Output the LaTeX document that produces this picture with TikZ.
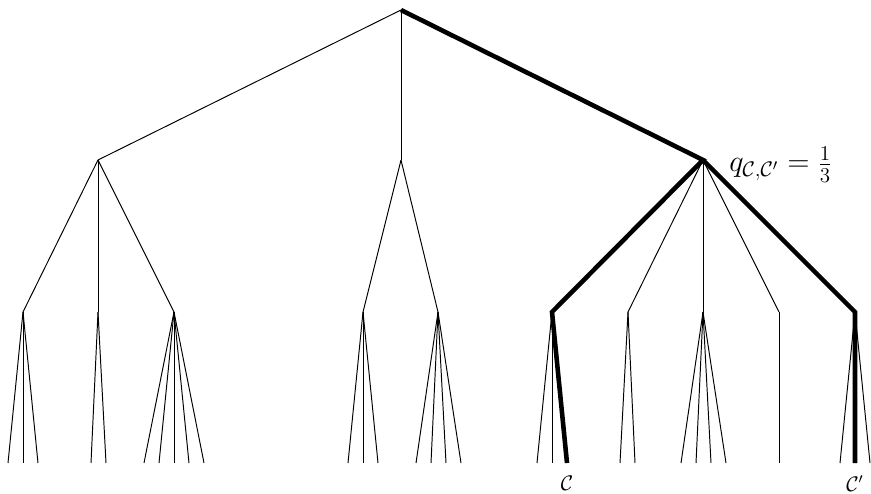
\documentclass[tikz,border=0pt]{standalone}
\usetikzlibrary{positioning}

\tikzset{
  edge/.style={line width=0.55pt},
  chosen/.style={line width=2.6pt, line join=miter},
  leaflab/.style={font=\large, inner sep=1pt}
}

\begin{document}
\begin{tikzpicture}[x=0.02cm, y=-0.02cm]
\useasboundingbox (0,0) rectangle (871,493);
% levels
\def\ytop{10}
\def\ymid{160}
\def\ylow{312}
\def\yleaf{463}
\coordinate (root) at (401,\ytop);
\coordinate (l) at (98,\ymid);
\coordinate (m) at (401,\ymid);
\coordinate (r) at (703,\ymid);
% root edges
\foreach \c in {l,m,r}
  \draw[edge] (root) -- (\c);
% second level
\foreach \nm/\x/\p in {la/23/l,lb/98/l,lc/174/l,ma/363/m,mb/438/m,
                       ra/552/r,rb/628/r,rc/703/r,rd/779/r,re/855/r}{
  \coordinate (\nm) at (\x,\ylow);
  \draw[edge] (\p) -- (\nm);
}
% leaves
\foreach \nm/\xs in {la/{8,23,38},lb/{91,106},lc/{144,159,174,189,204},
                     ma/{348,363,378},mb/{416,431,446,461},
                     ra/{537,552,567},rb/{620,635},rc/{681,696,711,726},
                     rd/{779},re/{840,855,870}}{
  \foreach \x [count=\i] in \xs {
    \coordinate (\nm\i) at (\x,\yleaf);
    \draw[edge] (\nm) -- (\nm\i);
  }
}
% highlighted paths
\draw[chosen] (root) -- (r) -- (ra) -- (ra3);
\draw[chosen] (r) -- (re) -- (re2);
% labels
\node[anchor=base west, font=\fontsize{18}{21}\selectfont, inner sep=0pt] (q) at (729,172)
  {$q_{\mathcal{C},\mathcal{C}'}=\frac{1}{3}$};
\node[leaflab, below=6pt of ra3] (c) {$\mathcal{C}$};
\node[leaflab, below=6pt of re2] (cp) {$\mathcal{C}'$};
\end{tikzpicture}
\end{document}
